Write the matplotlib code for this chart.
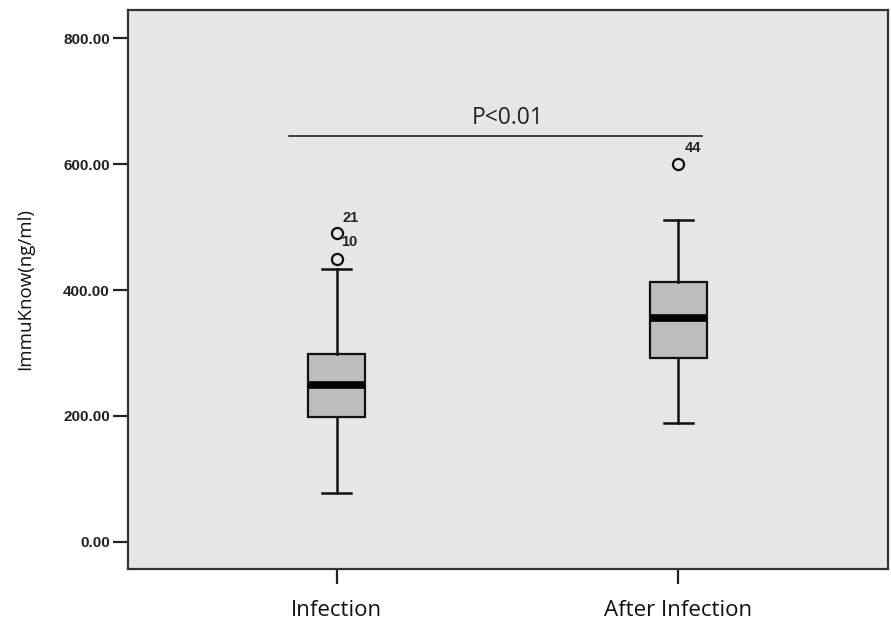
import numpy as np
import matplotlib
matplotlib.use('Agg')
from matplotlib import pyplot as plt

# datos
grupos = ['Infection', 'After Infection']
minimo = [78, 188]
q1 = [198, 292]
mediana = [249, 355]
q3 = [299, 412]
maximo = [433, 512]
atipicos = [[450, 490], [601]]
etiquetas = [['10', '21'], ['44']]
p_texto = 'P<0.01'
p_altura = 644
yticks = [0, 200, 400, 600, 800]

fig = plt.figure(figsize=(8.91, 6.21), dpi=100)
ax = fig.add_axes([128/891, 1-569/621, 760/891, 559/621])
ax.set_facecolor('#e6e6e6')

pos = [1, 2]
stats = []
for i in range(2):
    stats.append({'med': mediana[i], 'q1': q1[i], 'q3': q3[i],
                  'whislo': minimo[i], 'whishi': maximo[i],
                  'fliers': atipicos[i], 'label': grupos[i]})

ax.bxp(stats, positions=pos, widths=0.167, patch_artist=True,
       boxprops=dict(facecolor='#bdbdbd', edgecolor='#111111', linewidth=1.6),
       medianprops=dict(color='black', linewidth=5.5, solid_capstyle='butt'),
       whiskerprops=dict(color='#111111', linewidth=1.8),
       capprops=dict(color='#111111', linewidth=1.8),
       capwidths=0.085,
       flierprops=dict(marker='o', markerfacecolor='none', markeredgecolor='#111111',
                       markersize=8, markeredgewidth=1.6))

# numeros de caso junto a los atipicos
desp = {'10': (3.5, 12), '21': (4.5, 11), '44': (4.5, 11.5)}
for i in range(2):
    for v, t in zip(atipicos[i], etiquetas[i]):
        ax.annotate(t, (pos[i], v), xytext=desp[t], textcoords='offset points',
                    ha='left', va='center', fontsize=10.5, fontweight='bold',
                    family='Liberation Sans', color='#222222')

# linea de significancia
ax.plot([0.86, 2.07], [p_altura, p_altura], color='#222222', linewidth=1.2)
ax.text(1.5, p_altura + 30, p_texto, ha='center', va='center', fontsize=16.5,
        family='Open Sans', color='#222222')

ax.set_xlim(0.389, 2.615)
ax.set_ylim(-43.4, 845)
ax.set_xticks(pos)
ax.set_xticklabels(grupos, family='Open Sans', fontsize=16, color='#111111')
ax.set_yticks(yticks)
ax.set_yticklabels(['%.2f' % v for v in yticks], family='Liberation Sans',
                   fontsize=11, fontweight='bold', color='#222222')
ax.tick_params(axis='both', direction='out', length=11, width=1.6, color='#222222')
ax.tick_params(axis='x', pad=11)
ax.tick_params(axis='y', pad=2)
for s in ax.spines.values():
    s.set_color('#333333')
    s.set_linewidth(1.6)

ax.set_ylabel('ImmuKnow(ng/ml)', family='Open Sans', fontsize=13.5, color='#111111',
              labelpad=21)

plt.savefig('out.png', dpi=100)
